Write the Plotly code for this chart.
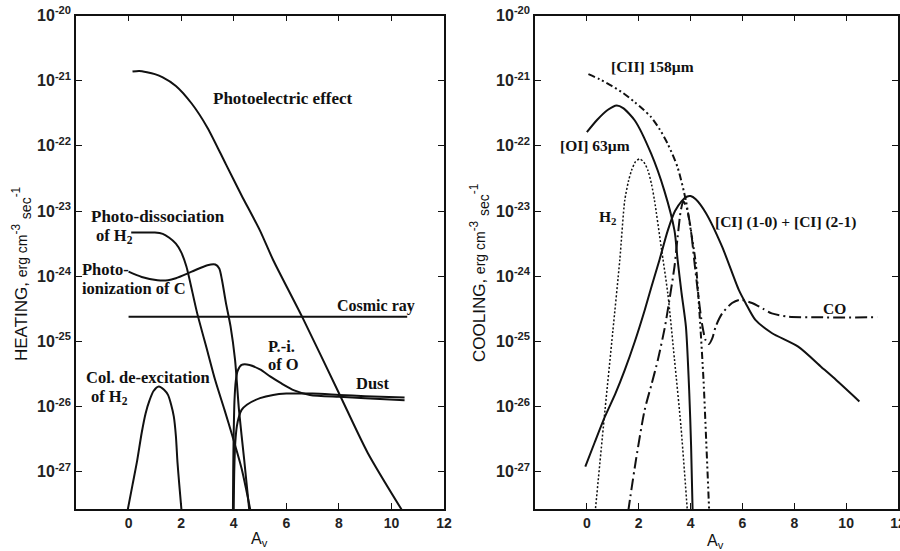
import plotly.graph_objects as go

# ---------------- data (A_v, log10 of rate in erg cm^-3 s^-1) ----------------
# Left panel: heating
pe_x = [0.15, 0.4, 0.7, 1.0, 1.3, 1.8, 2.4, 3.0, 3.7, 4.3, 5.0, 5.5, 6.6, 8.0, 9.1, 10.45]
pe_y = [-20.86, -20.85, -20.87, -20.9, -20.95, -21.08, -21.35, -21.72, -22.28, -22.76, -23.3, -23.75, -24.62, -25.79, -26.71, -27.62]

pd_x = [0.1, 0.6, 1.0, 1.3, 1.55, 1.8, 2.0, 2.2, 2.6, 3.0, 3.3, 3.65, 3.95, 4.3, 4.65]
pd_y = [-23.33, -23.33, -23.33, -23.35, -23.41, -23.5, -23.63, -23.85, -24.55, -25.15, -25.6, -26.05, -26.45, -26.95, -27.62]

pic_x = [0.0, 0.5, 1.1, 1.5, 1.8, 2.4, 3.0, 3.3, 3.45, 3.55, 3.7, 3.88, 4.05, 4.2, 4.4, 4.6]
pic_y = [-23.93, -24.01, -24.06, -24.06, -24.03, -23.93, -23.83, -23.82, -23.88, -24.05, -24.4, -24.77, -25.28, -26.05, -26.82, -27.62]

cr_x = [0.0, 10.6]
cr_y = [-24.62, -24.62]

pio_x = [3.97, 3.98, 4.0, 4.03, 4.08, 4.15, 4.3, 4.6, 5.0, 5.4, 5.8, 6.3, 6.9, 8.0, 9.0, 10.5]
pio_y = [-27.62, -27.0, -26.4, -25.9, -25.6, -25.45, -25.36, -25.36, -25.43, -25.54, -25.64, -25.75, -25.82, -25.85, -25.87, -25.9]

dust_x = [4.0, 4.02, 4.06, 4.12, 4.2, 4.3, 4.5, 5.0, 5.5, 6.0, 7.0, 8.0, 9.0, 10.5]
dust_y = [-27.62, -27.0, -26.55, -26.3, -26.15, -26.05, -25.97, -25.87, -25.82, -25.8, -25.8, -25.82, -25.84, -25.86]

cd_x = [-0.05, 0.15, 0.33, 0.5, 0.65, 0.8, 0.95, 1.15, 1.35, 1.5, 1.62, 1.72, 1.8, 1.86, 1.93, 2.02]
cd_y = [-27.62, -27.2, -26.82, -26.4, -26.1, -25.9, -25.76, -25.69, -25.74, -25.82, -25.97, -26.15, -26.45, -26.85, -27.2, -27.62]

# Right panel: cooling
cii_x = [0.06, 0.5, 0.96, 1.4, 1.85, 2.2, 2.48, 2.8, 3.12, 3.5, 3.82, 4.01, 4.2, 4.35, 4.5, 4.6, 4.72]
cii_y = [-20.9, -20.98, -21.08, -21.19, -21.33, -21.45, -21.56, -21.74, -21.97, -22.33, -22.84, -23.3, -23.8, -24.6, -25.6, -26.5, -27.62]

oi_x = [0.0, 0.4, 0.8, 1.15, 1.4, 1.85, 2.48, 2.99, 3.38, 3.5, 3.65, 3.82, 3.95, 4.02, 4.08]
oi_y = [-21.79, -21.6, -21.45, -21.38, -21.42, -21.61, -22.12, -22.69, -23.3, -23.75, -24.25, -24.77, -25.79, -26.6, -27.62]

h2_x = [0.32, 0.7, 1.0, 1.27, 1.46, 1.6, 1.72, 1.88, 2.04, 2.2, 2.36, 2.5, 2.61, 2.87, 3.12, 3.38, 3.63, 3.88]
h2_y = [-27.62, -26.05, -24.85, -23.75, -22.84, -22.55, -22.38, -22.24, -22.2, -22.25, -22.38, -22.6, -22.84, -23.56, -24.26, -25.28, -26.31, -27.62]

ci_x = [-0.06, 0.3, 0.7, 1.1, 1.46, 1.85, 2.23, 2.5, 2.8, 3.12, 3.4, 3.65, 3.85, 4.0, 4.2, 4.59, 5.22, 5.86, 6.12, 6.5, 7.13, 8.15, 9.04, 9.5, 10.51]
ci_y = [-26.92, -26.55, -26.15, -25.8, -25.44, -25.0, -24.52, -24.15, -23.75, -23.3, -23.0, -22.85, -22.78, -22.77, -22.82, -23.03, -23.55, -24.21, -24.41, -24.67, -24.87, -25.08, -25.39, -25.55, -25.92]

co_x = [1.59, 1.9, 2.23, 2.5, 2.74, 3.0, 3.12, 3.38, 3.5, 3.62, 3.72, 3.85, 4.0, 4.14, 4.3, 4.45, 4.58, 4.71, 4.84, 4.97, 5.22, 5.6, 5.9, 6.37, 6.8, 7.13, 7.77, 9.0, 11.2]
co_y = [-27.62, -26.8, -26.05, -25.65, -25.28, -24.8, -24.52, -23.85, -23.4, -23.0, -22.85, -22.95, -23.25, -23.75, -24.3, -24.75, -24.98, -25.04, -24.95, -24.77, -24.57, -24.41, -24.36, -24.41, -24.5, -24.57, -24.62, -24.63, -24.63]

x_ticks = [0, 2, 4, 6, 8, 10, 12]
y_exps = [-20, -21, -22, -23, -24, -25, -26, -27]


def pw(a):
    return [10.0 ** v for v in a]


fig = go.Figure()


def add(x, y, ax, dash=None, width=2):
    line = dict(color="#111111", width=width, shape="spline", smoothing=0.7)
    if dash:
        line["dash"] = dash
    fig.add_trace(go.Scatter(x=x, y=pw(y), mode="lines", line=line,
                             xaxis="x" if ax == 1 else "x2",
                             yaxis="y" if ax == 1 else "y2",
                             showlegend=False, hoverinfo="skip"))


for xs, ys in [(pe_x, pe_y), (pd_x, pd_y), (pic_x, pic_y), (cr_x, cr_y),
               (pio_x, pio_y), (dust_x, dust_y), (cd_x, cd_y)]:
    add(xs, ys, 1)

add(cii_x, cii_y, 2, dash="7px,3px,2px,3px,2px,3px", width=2)
add(oi_x, oi_y, 2)
add(h2_x, h2_y, 2, dash="2px,2px", width=1.5)
add(ci_x, ci_y, 2)
add(co_x, co_y, 2, dash="12px,4px,2px,4px", width=2)

xtickfont = dict(family="Liberation Sans", size=14, color="#222222", weight="bold")
ytickfont = dict(family="Liberation Sans", size=16, color="#222222", weight="bold")
ticktext = ["10<sup>%d</sup>" % e for e in y_exps]
tickvals = [10.0 ** e for e in y_exps]

ydom = [1 - 509 / 551, 1 - 15.5 / 551]


def xax(dom, anchor):
    return dict(domain=dom, range=[-2, 12], tickvals=x_ticks, ticks="inside", ticklen=6,
                tickwidth=1.3, showline=True, linecolor="#111111", linewidth=1.5,
                mirror="ticks", showgrid=False, zeroline=False, tickfont=xtickfont,
                anchor=anchor, tickcolor="#111111", automargin=False,
                ticklabeloverflow="allow")


def yax(anchor):
    return dict(domain=ydom, type="log", range=[-27.57, -20], tickvals=tickvals,
                ticktext=ticktext, ticks="inside", ticklen=6, tickwidth=1.3,
                showline=True, linecolor="#111111", linewidth=1.5, mirror="ticks",
                showgrid=False, zeroline=False, tickfont=ytickfont, anchor=anchor,
                tickcolor="#111111", automargin=False, ticklabeloverflow="allow")


fig.update_layout(
    template="none",
    width=900, height=551, autosize=False,
    margin=dict(l=0, r=0, t=0, b=0, pad=0, autoexpand=False),
    paper_bgcolor="white", plot_bgcolor="white",
    xaxis=xax([76 / 900, 444 / 900], "y"),
    yaxis=yax("x"),
    xaxis2=xax([535 / 900, 898 / 900], "y2"),
    yaxis2=yax("x2"),
)


def lab(text, x, y, ax, anchor="center", size=16.5):
    fig.add_annotation(text=text, x=x, y=y, xref="x" if ax == 1 else "x2",
                       yref="y" if ax == 1 else "y2", showarrow=False,
                       xanchor=anchor, yanchor="middle",
                       font=dict(family="Liberation Serif", size=size, color="#111111", weight="bold"))


lab("Photoelectric effect", 5.87, -21.28, 1, size=17)
lab("Photo-dissociation", -1.52, -23.09, 1, "left", size=17)
lab("of H<sub>2</sub>", -1.33, -23.38, 1, "left")
lab("Photo-", -1.83, -23.90, 1, "left")
lab("ionization of C", -1.83, -24.18, 1, "left")
lab("Cosmic ray", 9.42, -24.46, 1, size=16)
lab("P.-i.", 5.21, -25.08, 1, "left")
lab("of O", 5.21, -25.35, 1, "left")
lab("Dust", 9.30, -25.65, 1)
lab("Col. de-excitation", -1.71, -25.56, 1, "left")
lab("of H<sub>2</sub>", -1.52, -25.85, 1, "left")

lab("[CII] 158µm", 2.55, -20.79, 2, size=15.5)
lab("[OI] 63µm", 0.32, -22.0, 2, size=15.5)
lab("H<sub>2</sub>", 0.8, -23.10, 2, size=15.5)
lab("[CI] (1-0) + [CI] (2-1)", 7.65, -23.16, 2, size=15.5)
lab("CO", 9.57, -24.49, 2, size=15.5)

TF = dict(family="Liberation Sans", size=17, color="#111111")
sm = "<span style='font-size:14px'>"
title_tail = sm + "erg cm</span><sup>-3</sup> <sub>" + sm + "sec</span></sub><sup>-1</sup>"
fig.add_annotation(text="HEATING, " + title_tail,
                   x=22 / 900, y=1 - 274 / 551, xref="paper", yref="paper", showarrow=False,
                   textangle=-90, xanchor="center", yanchor="middle", font=TF)
fig.add_annotation(text="COOLING, " + title_tail,
                   x=479 / 900, y=1 - 273 / 551, xref="paper", yref="paper", showarrow=False,
                   textangle=-90, xanchor="center", yanchor="middle", font=TF)
AF = dict(family="Liberation Sans", size=16, color="#111111")
fig.add_annotation(text="A<sub>v</sub>", x=259 / 900, y=1 - 539 / 551, xref="paper", yref="paper",
                   showarrow=False, xanchor="center", yanchor="middle", font=AF)
fig.add_annotation(text="A<sub>v</sub>", x=715 / 900, y=1 - 541 / 551, xref="paper", yref="paper",
                   showarrow=False, xanchor="center", yanchor="middle", font=AF)

fig.write_html("out.html")
